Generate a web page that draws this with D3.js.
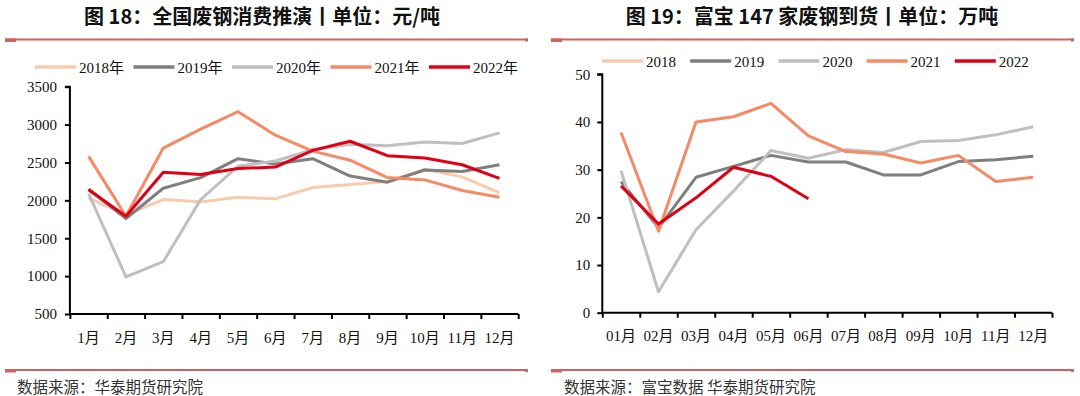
<!DOCTYPE html>
<html><head><meta charset="utf-8">
<script src="https://cdn.jsdelivr.net/npm/d3@7"></script>
<style>body{margin:0;background:#fff;} svg{display:block}</style>
</head><body><svg id="c" width="1080" height="396"></svg>
<script>
// ---- data: chart 18 (national scrap consumption, 元/吨)
const monthsA = ["1月","2月","3月","4月","5月","6月","7月","8月","9月","10月","11月","12月"];
const yearsA = ["2018年","2019年","2020年","2021年","2022年"];
const consume2018 = [2030, 1810, 2010, 1980, 2040, 2020, 2170, 2210, 2250, 2410, 2310, 2100];
const consume2019 = [2150, 1760, 2160, 2300, 2550, 2480, 2550, 2320, 2240, 2400, 2380, 2470];
const consume2020 = [2090, 990, 1190, 2010, 2450, 2520, 2670, 2740, 2720, 2770, 2750, 2890];
const consume2021 = [2580, 1790, 2690, 2940, 3170, 2860, 2650, 2530, 2300, 2270, 2130, 2040];
const consume2022 = [2140, 1790, 2370, 2340, 2420, 2440, 2660, 2780, 2590, 2560, 2470, 2290];
const ticksA = [500, 1000, 1500, 2000, 2500, 3000, 3500];

// ---- data: chart 19 (Fubao 147 scrap arrivals, 万吨)
const monthsB = ["01月","02月","03月","04月","05月","06月","07月","08月","09月","10月","11月","12月"];
const yearsB = ["2018","2019","2020","2021","2022"];
const arrive2018 = [];
const arrive2019 = [27.5, 17.8, 28.4, 30.7, 33.0, 31.6, 31.6, 28.9, 28.9, 31.7, 32.1, 32.8];
const arrive2020 = [29.8, 4.4, 17.4, 25.5, 34.0, 32.4, 34.2, 33.6, 35.9, 36.1, 37.3, 39.0];
const arrive2021 = [37.8, 17.1, 40.0, 41.1, 43.9, 37.1, 33.8, 33.3, 31.4, 33.0, 27.5, 28.4];
const arrive2022 = [26.6, 18.6, 24.1, 30.5, 28.6, 23.9];
const ticksB = [0, 10, 20, 30, 40, 50];

const colors = ["#F8CBAD", "#7F7F7F", "#BFBFBF", "#F58A66", "#DF0016"];
const svg = d3.select("#c");
const SERIF = "'Liberation Serif','Times New Roman','Noto Sans CJK SC',serif";
const CJK = "'Noto Sans CJK SC','Noto Sans',sans-serif";
const RULE = "#C96464";

function rule(x0, x1, y) {
  svg.append("rect").attr("x", x0).attr("y", y - 1).attr("width", x1 - x0).attr("height", 2).attr("fill", RULE);
  svg.append("rect").attr("x", x0).attr("y", y - 1).attr("width", 11).attr("height", 3.5).attr("fill", RULE);
  svg.append("rect").attr("x", x1 - 3).attr("y", y - 1).attr("width", 3).attr("height", 3).attr("fill", RULE);
}

function panel(o) {
  const g = svg.append("g");
  // title
  g.append("text").attr("x", o.titleX).attr("y", 23.5).attr("text-anchor", "middle")
    .attr("font-family", CJK).attr("font-weight", 700).attr("font-size", 20)
    .attr("fill", "#111").text(o.title);
  rule(o.rule[0], o.rule[1], 39.5);
  rule(o.rule[0], o.rule[1], 370);
  g.append("text").attr("x", o.footX).attr("y", 393).attr("font-family", CJK)
    .attr("font-size", 15.5).attr("fill", "#333").text(o.footer);

  const x = d3.scaleBand().domain(o.cats).range(o.xRange).paddingInner(0).paddingOuter(0);
  const y = d3.scaleLinear().domain(o.yDomain).range(o.yRange);
  const edges = d3.scaleLinear().domain([0, o.cats.length]).range(o.xRange);

  // y axis
  const ya = g.append("g").attr("transform", `translate(${o.xRange[0]},0)`)
    .call(d3.axisLeft(y).tickValues(o.ticks).tickSize(5).tickPadding(o.yPad).tickFormat(d3.format("d")));
  ya.selectAll("path,line").attr("stroke", "#000").attr("stroke-width", 2);
  ya.select("path").attr("d", `M-5,${o.yRange[1]}H0V${o.yRange[0]}`);
  ya.selectAll("text").attr("font-family", SERIF).attr("font-size", 15).attr("fill", "#111");

  // x axis: boundary ticks
  const xb = g.append("g").attr("transform", `translate(0,${o.yRange[0]})`)
    .call(d3.axisBottom(edges).ticks(o.cats.length).tickSize(5).tickFormat(""));
  xb.selectAll("path,line").attr("stroke", "#000").attr("stroke-width", 2);
  xb.select("path").attr("d", `M${o.xRange[0]},0H${o.xRange[1]}`);
  // x labels
  const xl = g.append("g").attr("transform", `translate(0,${o.yRange[0]})`)
    .call(d3.axisBottom(x).tickSize(0).tickPadding(18));
  xl.select("path").remove();
  xl.selectAll("text").attr("font-family", SERIF).attr("font-size", 15).attr("fill", "#111");

  // lines
  const line = d3.line().x((d, i) => x(o.cats[i]) + x.bandwidth() / 2).y(d => y(d));
  o.series.forEach((s, i) => {
    if (!s.length) return;
    g.append("path").datum(s).attr("d", line).attr("fill", "none")
      .attr("stroke", colors[i]).attr("stroke-width", 3).attr("stroke-linejoin", "round");
  });

  // legend
  o.legend.forEach((name, i) => {
    const lx = o.legX + i * o.legStep;
    g.append("line").attr("x1", lx).attr("x2", lx + 41).attr("y1", o.legY).attr("y2", o.legY)
      .attr("stroke", colors[i]).attr("stroke-width", 3.5);
    g.append("text").attr("x", lx + 44).attr("y", o.legY + 5.5).attr("font-family", SERIF)
      .attr("font-size", 15).attr("fill", "#111").text(name);
  });
}

panel({
  title: "图 18：全国废钢消费推演丨单位：元/吨", titleX: 262, rule: [5, 528], footX: 17,
  footer: "数据来源：华泰期货研究院",
  cats: monthsA, xRange: [69.9, 518.2], yDomain: [500, 3500], yRange: [314, 86.7], ticks: ticksA, yPad: 8,
  series: [consume2018, consume2019, consume2020, consume2021, consume2022],
  legend: yearsA, legX: 35, legStep: 98.5, legY: 67
});
panel({
  title: "图 19：富宝 147 家废钢到货丨单位：万吨", titleX: 812, rule: [551, 1074], footX: 564,
  footer: "数据来源：富宝数据 华泰期货研究院",
  cats: monthsB, xRange: [602.3, 1052], yDomain: [0, 50], yRange: [312.7, 74.3], ticks: ticksB, yPad: 7,
  series: [arrive2018, arrive2019, arrive2020, arrive2021, arrive2022],
  legend: yearsB, legX: 602, legStep: 88.2, legY: 61
});
</script></body></html>
